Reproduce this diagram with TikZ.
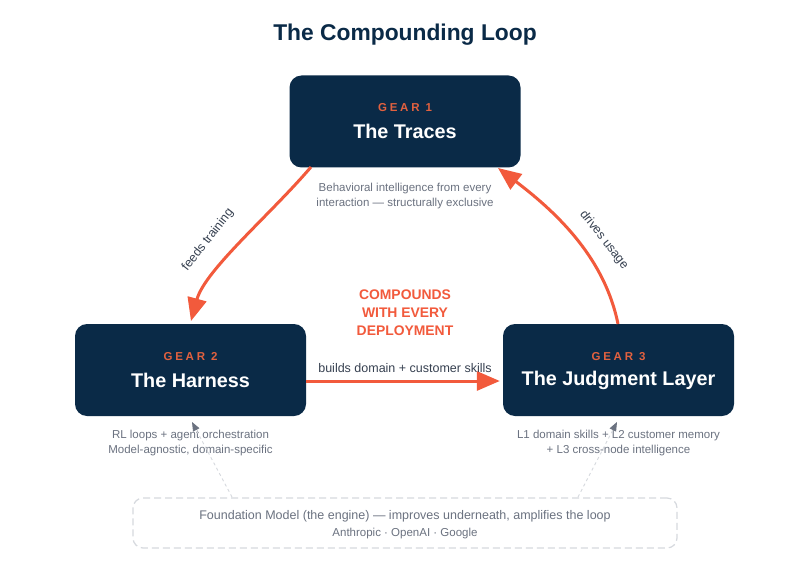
\documentclass[tikz,border=0pt]{standalone}
\usepackage{fontspec}
\setmainfont{Liberation Sans}
\usetikzlibrary{arrows.meta,calc}
\definecolor{navy}{HTML}{0A2A47}
\definecolor{accent}{HTML}{F25A3C}
\definecolor{gearlbl}{HTML}{E2613F}
\definecolor{desc}{HTML}{6B7280}
\definecolor{darktxt}{HTML}{374151}
\definecolor{faint}{HTML}{D6D9DE}
\begin{document}
\begin{tikzpicture}[x=1pt,y=-1pt,
  gearbox/.style={rectangle,rounded corners=12pt,fill=navy,minimum width=231pt,minimum height=92pt,inner sep=0pt},
  gearlabel/.style={text=gearlbl,font=\fontsize{11.5}{13}\selectfont\bfseries\addfontfeature{LetterSpace=24},inner sep=0pt},
  geartitle/.style={text=white,font=\fontsize{19.8}{23}\selectfont\bfseries,inner sep=0pt},
  desctext/.style={text=desc,font=\fontsize{11.5}{15}\selectfont,align=center,inner sep=0pt},
  flow/.style={draw=accent,line width=3pt,-{Triangle[length=23pt,width=19pt]}},
  flowlabel/.style={text=darktxt,font=\fontsize{12.5}{15}\selectfont,inner sep=0pt},
  support/.style={draw=faint,line width=0.9pt,dashed,-{Triangle[length=9pt,width=7pt,fill=desc,color=desc]}}
]
\useasboundingbox[fill=white] (0,0) rectangle (810,580);

\node[text=navy,font=\fontsize{22.8}{27}\selectfont\bfseries,inner sep=0pt] (title) at (405,35) {The Compounding Loop};

% gears
\node[gearbox] (g1) at (405,121.5) {};
\node[gearlabel] (g1l) at (405,108) {GEAR 1};
\node[geartitle] (g1t) at (405,131.5) {The Traces};

\node[gearbox] (g2) at (190.5,370) {};
\node[gearlabel] (g2l) at (190.5,356.5) {GEAR 2};
\node[geartitle] (g2t) at (190.5,380.5) {The Harness};

\node[gearbox] (g3) at (618.5,370) {};
\node[gearlabel] (g3l) at (618.5,356.5) {GEAR 3};
\node[geartitle] (g3t) at (618.5,380.5) {The Judgment Layer};

% descriptions
\node[desctext] (d1) at (405,196) {Behavioral intelligence from every\\interaction — structurally exclusive};
\node[desctext] (d2) at (190.5,443) {RL loops + agent orchestration\\Model-agnostic, domain-specific};
\node[desctext] (d3) at (618.5,443) {L1 domain skills + L2 customer memory\\+ L3 cross-node intelligence};

% center label
\node[text=accent,font=\fontsize{13.9}{18}\selectfont\bfseries,align=center,inner sep=0pt] (comp) at (405,312.5) {COMPOUNDS\\WITH EVERY\\DEPLOYMENT};

% foundation
\node[draw=faint,line width=1.2pt,dash pattern=on 7pt off 4pt,rounded corners=10pt,minimum width=544pt,minimum height=50pt,inner sep=0pt] (fm) at (405,523) {};
\node[text=desc,font=\fontsize{12.5}{15}\selectfont,inner sep=0pt] (fmt) at (405,516) {Foundation Model (the engine) — improves underneath, amplifies the loop};
\node[text=desc,font=\fontsize{11.5}{13}\selectfont,inner sep=0pt] (fms) at (405,533.5) {Anthropic · OpenAI · Google};

% flows
\coordinate (a1s) at (311,167);
\coordinate (a1e) at (191,321);
\draw[flow] (a1s) .. controls (270,215) and (205,270) .. (a1e);
\node[flowlabel,rotate=52] (l1) at (208,240) {feeds training};

\coordinate (a3s) at (618,324);
\coordinate (a3e) at (498,168);
\draw[flow] (a3s) .. controls (605,260) and (560,215) .. (a3e);
\node[flowlabel,rotate=-52] (l3) at (604,240) {drives usage};

\coordinate (a2s) at ($(g2.east)+(0,11)$);
\coordinate (a2e) at ($(g3.west)+(-3,11)$);
\draw[flow] (a2s) -- (a2e);
\node[flowlabel] (l2) at (405,368.5) {builds domain + customer skills};

% support connectors
\coordinate (s2s) at (232,497);
\coordinate (s2e) at (192,422);
\coordinate (s3s) at (578,497);
\coordinate (s3e) at (617,422);
\draw[support] (s2s) -- (s2e);
\draw[support] (s3s) -- (s3e);
\end{tikzpicture}
\end{document}
